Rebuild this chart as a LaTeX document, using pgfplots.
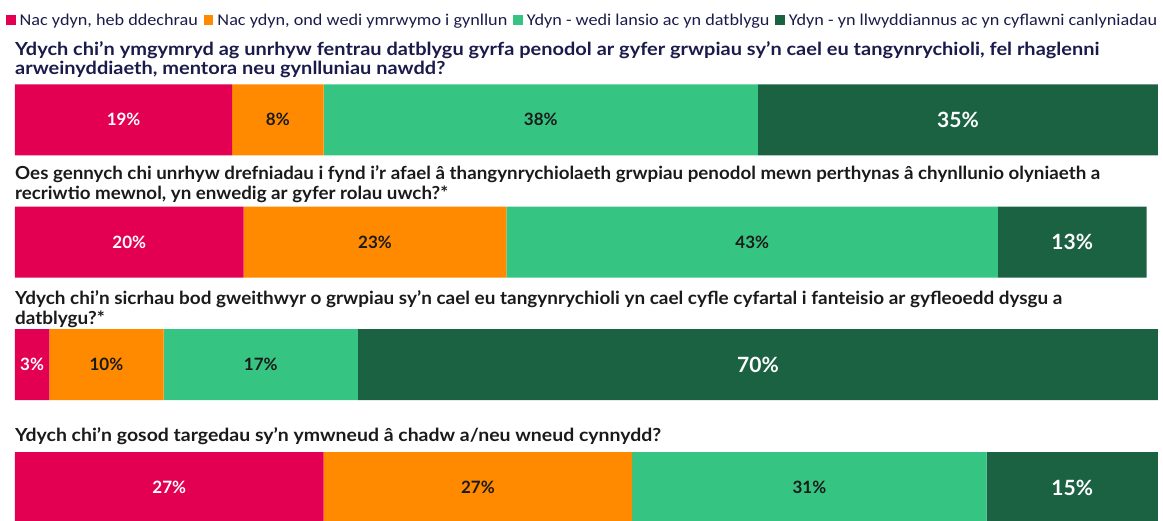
\documentclass[border=0pt]{standalone}
\usepackage{fontspec}
\usepackage{pgfplots}
\pgfplotsset{compat=1.18}
\setmainfont{Lato}
\newfontfamily\legfont{Carlito}[FakeStretch=1.103]
\newfontfamily\tA{Lato}[FakeStretch=1.11]
\newfontfamily\tB{Lato}[FakeStretch=1.042]
\newfontfamily\tC{Lato}[FakeStretch=1.052]
\newfontfamily\tD{Lato}[FakeStretch=1.08]
\definecolor{cpink}{HTML}{E30052}
\definecolor{corange}{HTML}{FF8A00}
\definecolor{clgreen}{HTML}{35C481}
\definecolor{cdgreen}{HTML}{1B6242}
\definecolor{cnavy}{HTML}{1B1B4B}
\definecolor{ctext}{HTML}{1A1A1A}
\newcommand\tsize{\bfseries\fontsize{18}{19}\selectfont}
\begin{document}
\begin{tikzpicture}
\useasboundingbox (0pt,0pt) rectangle (1163pt,-520pt);
\begin{axis}[
  at={(15pt,0pt)}, anchor=north west,
  scale only axis, width=1143pt, height=520pt,
  xmin=0, xmax=100, ymin=-520, ymax=0,
  hide axis,
  xbar stacked, bar width=71pt,
  point meta=explicit symbolic,
  nodes near coords,
  every node near coord/.append style={font=\bfseries\fontsize{17}{17}\selectfont},
  legend columns=4,
  legend style={at={(axis description cs:-0.0105,0.981)}, anchor=north west,
    draw=none, fill=none, font=\legfont\fontsize{16.5}{17}\selectfont, text=cnavy,
    /tikz/every even column/.append style={column sep=4pt}},
  legend image code/.code={\fill[#1,draw=none] (0pt,-4pt) rectangle (9.5pt,5.5pt); \path (11.5pt,0pt);},
]
\addplot[fill=cpink, draw=none, every node near coord/.append style={text=white}] coordinates {
  (19,-119.75) [19\%] (20,-242) [20\%] (3,-364.5) [3\%] (27,-487.5) [27\%]};
\addlegendentry{Nac ydyn, heb ddechrau}
\addplot[fill=corange, draw=none, every node near coord/.append style={text=ctext}] coordinates {
  (8,-119.75) [8\%] (23,-242) [23\%] (10,-364.5) [10\%] (27,-487.5) [27\%]};
\addlegendentry{Nac ydyn, ond wedi ymrwymo i gynllun}
\addplot[fill=clgreen, draw=none, every node near coord/.append style={text=ctext}] coordinates {
  (38,-119.75) [38\%] (43,-242) [43\%] (17,-364.5) [17\%] (31,-487.5) [31\%]};
\addlegendentry{Ydyn - wedi lansio ac yn datblygu}
\addplot[fill=cdgreen, draw=none, every node near coord/.append style={text=white, font=\bfseries\fontsize{21}{21}\selectfont}] coordinates {
  (35,-119.75) [35\%] (13,-242) [13\%] (70,-364.5) [70\%] (15,-487.5) [15\%]};
\addlegendentry{Ydyn - yn llwyddiannus ac yn cyflawni canlyniadau}
\end{axis}
\begin{scope}[every node/.style={anchor=base west, inner sep=0pt}]
\node[text=cnavy, font=\tA\tsize] at (15pt,-55pt) {Ydych chi’n ymgymryd ag unrhyw fentrau datblygu gyrfa penodol ar gyfer grwpiau sy’n cael eu tangynrychioli, fel rhaglenni};
\node[text=cnavy, font=\tA\tsize] at (15pt,-74.5pt) {arweinyddiaeth, mentora neu gynlluniau nawdd?};
\node[text=ctext, font=\tB\tsize] at (15pt,-179.5pt) {Oes gennych chi unrhyw drefniadau i fynd i’r afael â thangynrychiolaeth grwpiau penodol mewn perthynas â chynllunio olyniaeth a};
\node[text=ctext, font=\tB\tsize] at (15pt,-199pt) {recriwtio mewnol, yn enwedig ar gyfer rolau uwch?*};
\node[text=ctext, font=\tC\tsize] at (15pt,-304pt) {Ydych chi’n sicrhau bod gweithwyr o grwpiau sy’n cael eu tangynrychioli yn cael cyfle cyfartal i fanteisio ar gyfleoedd dysgu a};
\node[text=ctext, font=\tC\tsize] at (15pt,-324pt) {datblygu?*};
\node[text=ctext, font=\tD\tsize] at (15pt,-441pt) {Ydych chi’n gosod targedau sy’n ymwneud â chadw a/neu wneud cynnydd?};
\end{scope}
\end{tikzpicture}
\end{document}
